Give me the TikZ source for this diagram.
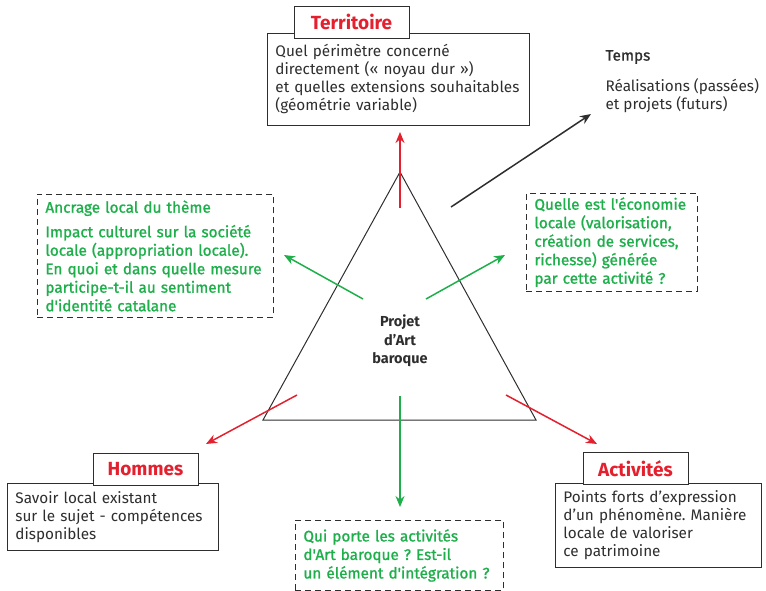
\documentclass[tikz,border=0pt]{standalone}
\usepackage{fontspec}
\setmainfont{Fira Sans}
\newfontfamily\medfont[FakeBold=1.2]{Fira Sans}
\usepackage{xcolor}
\definecolor{axisRed}{HTML}{E5202E}
\definecolor{questGreen}{HTML}{1EAF4B}
\definecolor{inkGray}{HTML}{2E2E2E}
\usetikzlibrary{arrows.meta, positioning}
\frenchspacing

\begin{document}
\begin{tikzpicture}[
    x=1pt, y=-1pt,
    font=\fontsize{15.3}{18}\selectfont,
    body/.style={
        draw=inkGray,
        line width=0.9pt,
        fill=white,
        anchor=north west,
        align=left,
        text=inkGray,
        inner xsep=8pt,
        inner ysep=4pt
    },
    title/.style={
        draw=inkGray,
        line width=0.9pt,
        fill=white,
        minimum height=32pt,
        text=axisRed,
        font=\fontsize{19}{20}\selectfont\bfseries
    },
    question/.style={
        draw=inkGray,
        line width=0.9pt,
        dashed,
        dash pattern=on 6pt off 4pt,
        anchor=north west,
        align=left,
        text=questGreen,
        inner xsep=8pt,
        inner ysep=4pt,
        font=\fontsize{15.3}{18.5}\selectfont\medfont
    },
    axis/.style={axisRed, line width=1.5pt, -{Stealth[length=11pt, width=9pt]}},
    link/.style={questGreen, line width=1.5pt, -{Stealth[length=11pt, width=9pt]}}
]
\useasboundingbox (0,0) rectangle (766,590);

% Triangle
\coordinate (apex) at (400,172);
\coordinate (baseL) at (263,420);
\coordinate (baseR) at (536,420);
\draw[inkGray, line width=1pt, line join=miter] (apex) -- (baseL) -- (baseR) -- cycle;
\node[align=center, text=inkGray, font=\fontsize{14.5}{18.5}\selectfont\bfseries] (projet) at (400,341) {Projet\\d'Art\\baroque};

% Poles
\node[body, minimum width=262pt, minimum height=92pt, text width=246pt] (terrBody) at (267,33)
    {Quel périmètre concerné\\directement («~noyau dur~»)\\et quelles extensions souhaitables\\(géométrie variable)};
\node[title, minimum width=115pt] (terr) at (351.5,22) {Territoire};

\node[body, minimum width=211pt, minimum height=67pt, text width=195pt] (homBody) at (7,483)
    {Savoir local existant\\sur le sujet - compétences\\disponibles};
\node[title, minimum width=105pt] (hom) at (145.5,469) {Hommes};

\node[body, minimum width=206pt, minimum height=84pt, text width=190pt] (actBody) at (555,483)
    {Points forts d'expression\\d'un phénomène. Manière\\locale de valoriser\\ce patrimoine};
\node[title, minimum width=105pt] (act) at (635.5,468.5) {Activités};

% Temps
\node[anchor=west, text=inkGray, font=\fontsize{15.3}{15}\selectfont\medfont] (temps) at (602,57) {Temps};
\node[anchor=north west, align=left, text=inkGray] (tempsTxt) at (602,75) {Réalisations (passées)\\et projets (futurs)};

% Questions
\node[question, minimum width=236pt, minimum height=123pt, text width=220pt] (ancrage) at (37,194)
    {Ancrage local du thème\\[6pt]Impact culturel sur la société\\locale (appropriation locale).\\En quoi et dans quelle mesure\\participe-t-il au sentiment\\d'identité catalane};
\node[question, minimum width=171pt, minimum height=97pt, text width=155pt] (economie) at (526,193)
    {Quelle est l'économie\\locale (valorisation,\\création de services,\\richesse) générée\\par cette activité ?};
\node[question, minimum width=208pt, minimum height=70pt, text width=192pt] (porteur) at (295,520)
    {Qui porte les activités\\d'Art baroque ? Est-il\\un élément d'intégration ?};

% Arrow ends
\coordinate (tTop) at (400,208);   \coordinate (hTop) at (400,132);
\coordinate (tL) at (297,395);     \coordinate (hL) at (206,444);
\coordinate (tR) at (506,395);     \coordinate (hR) at (597,444);
\coordinate (gL) at (363,299);     \coordinate (gLh) at (284,255);
\coordinate (gR) at (426,299);     \coordinate (gRh) at (505,255);
\coordinate (gD) at (400,396);     \coordinate (gDh) at (400,507);
\coordinate (tm) at (451,207);     \coordinate (tmh) at (591,114);

\draw[axis] (tTop) -- (hTop);
\draw[axis] (tL) -- (hL);
\draw[axis] (tR) -- (hR);
\draw[link] (gL) -- (gLh);
\draw[link] (gR) -- (gRh);
\draw[link] (gD) -- (gDh);
\draw[inkGray, line width=1.5pt, -{Stealth[length=11pt, width=9pt]}] (tm) -- (tmh);

\end{tikzpicture}
\end{document}
